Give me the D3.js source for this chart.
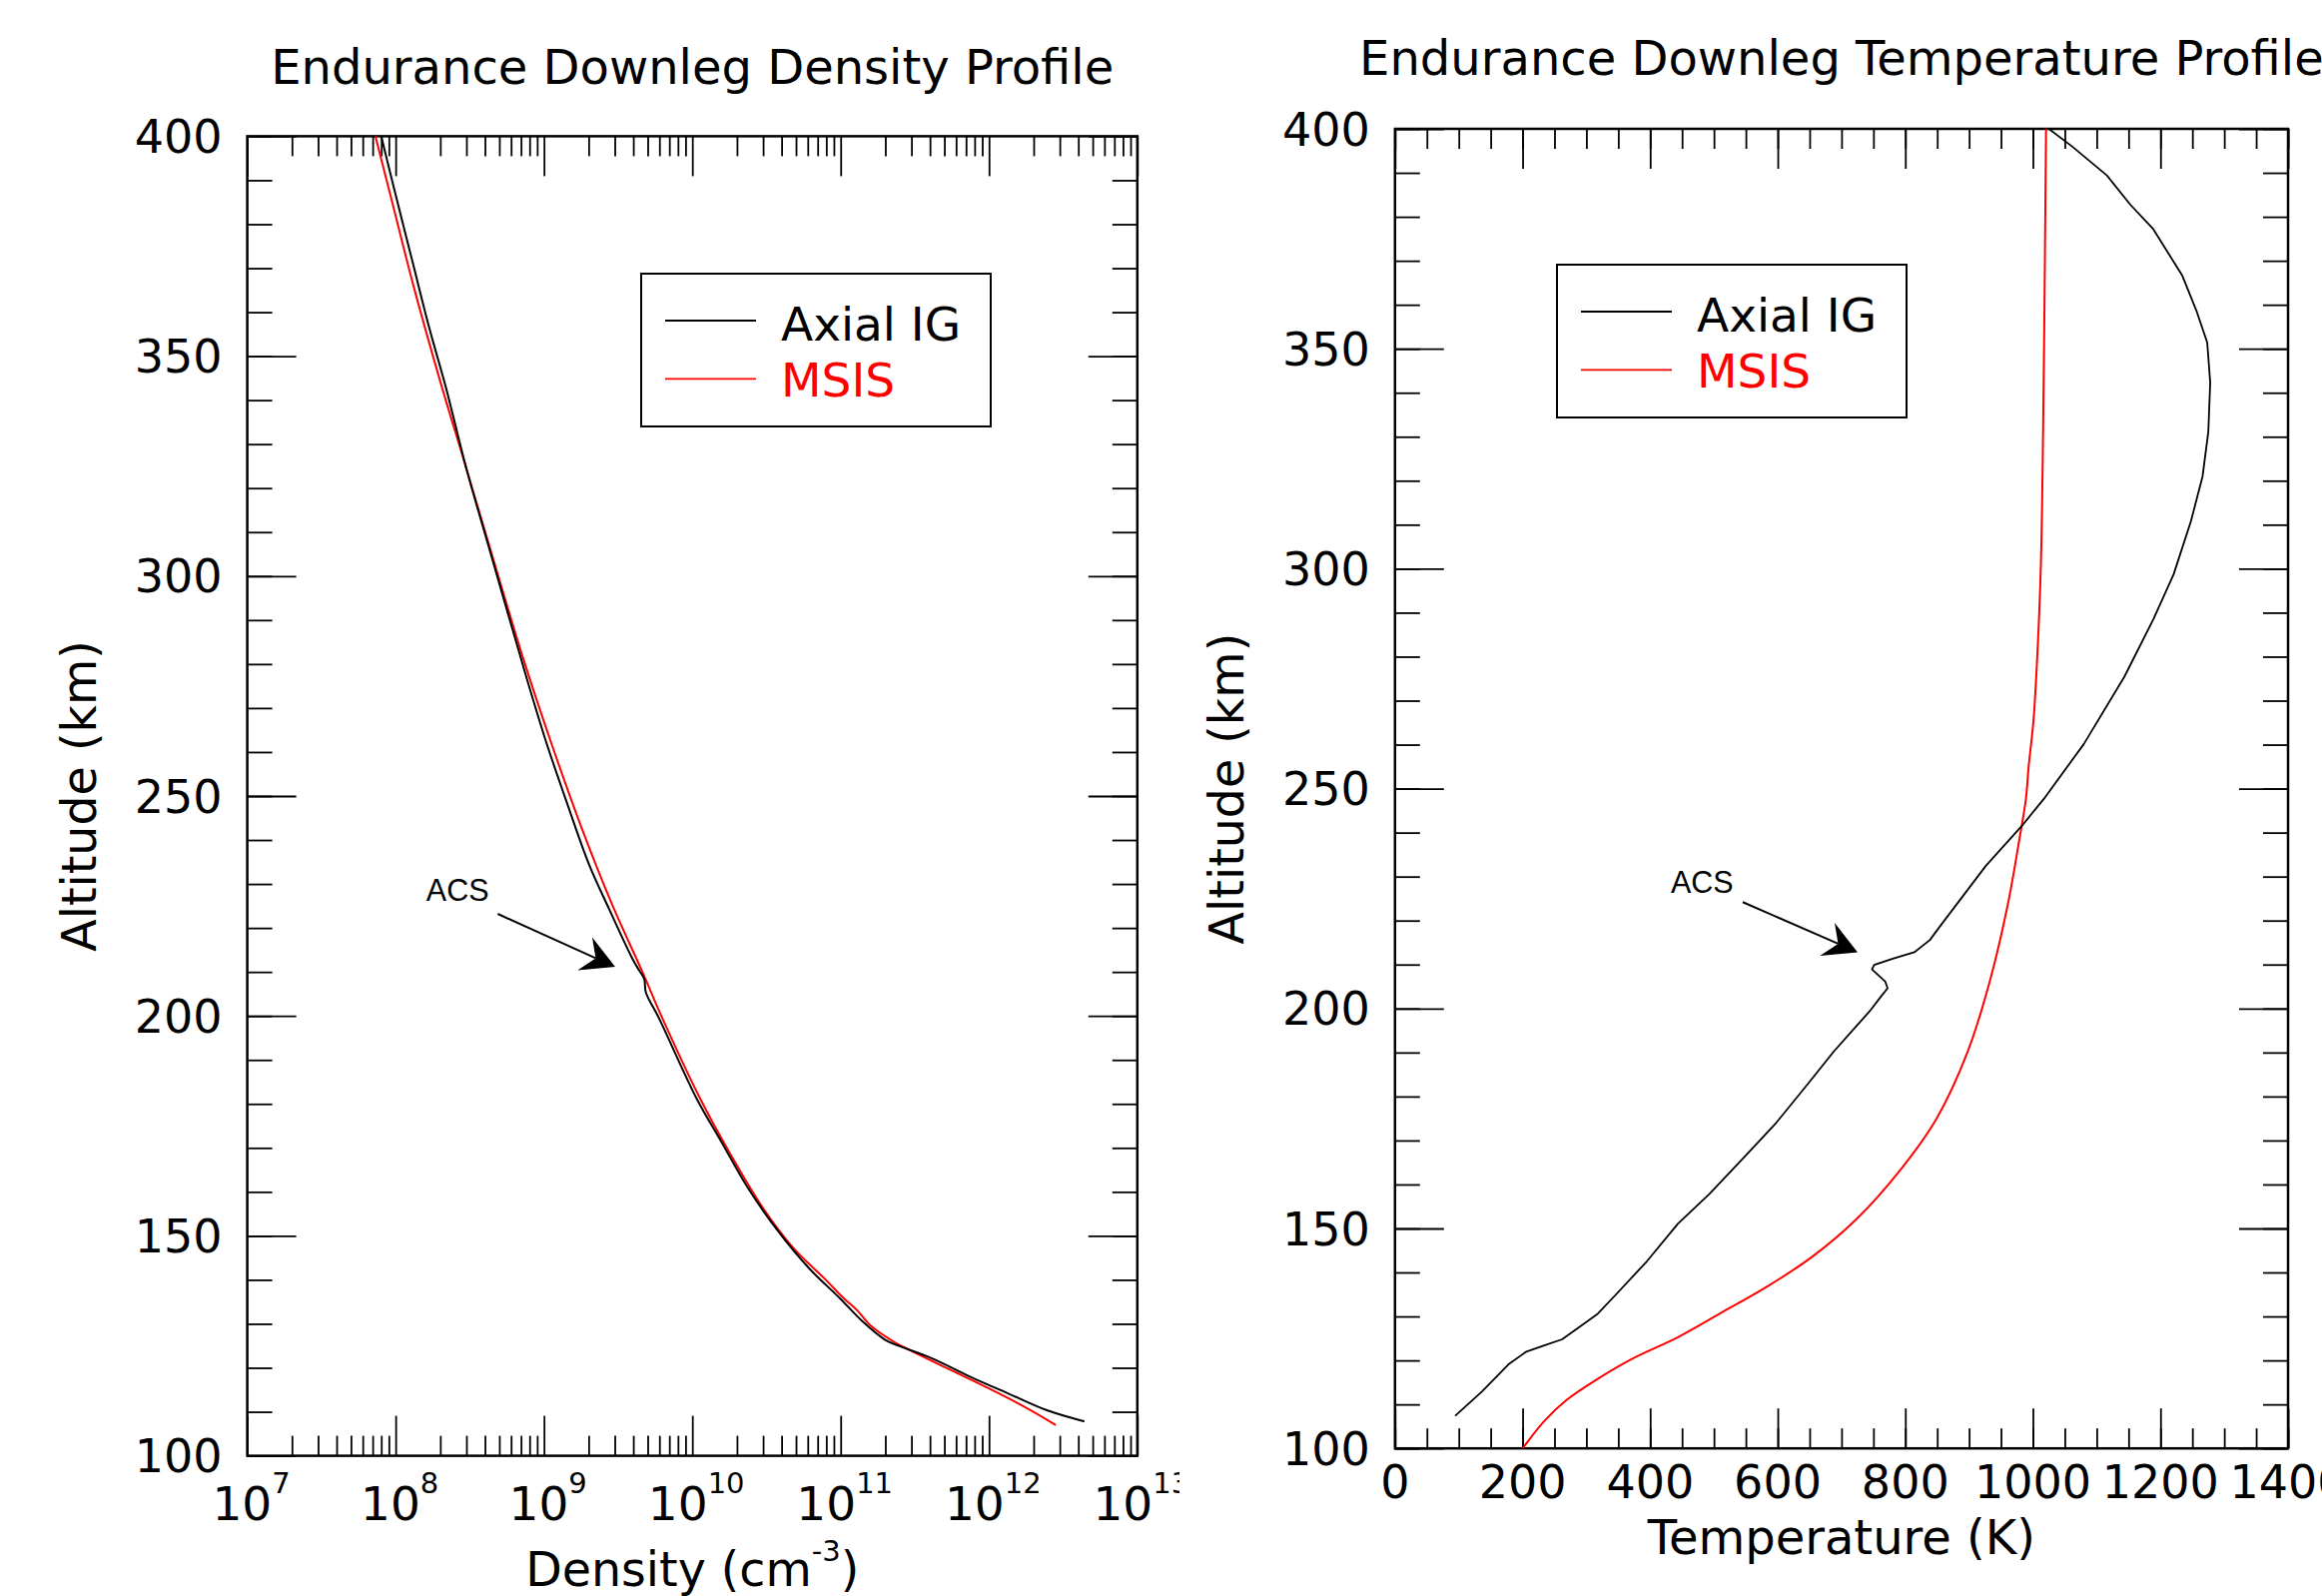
<!DOCTYPE html>
<html>
<head>
<meta charset="utf-8">
<script src="https://cdn.jsdelivr.net/npm/d3@7"></script>
<style>
body { margin: 0; background: #fff; }
text { font-family: "DejaVu Sans", sans-serif; }
</style>
</head>
<body>
<script>
var width = 2325,
    height = 1598;

// density profile, altitude (km) / density (cm^-3)
var denAltAxial = [400, 387.9, 371, 356.3, 342.7, 324.6, 308.8, 293, 277.3, 262.5, 249, 234.3,
    224.3, 213, 210.3, 208.4, 205.4, 199.4, 181.2, 171.4, 160.8, 150.9, 142.6, 135.8, 130.5, 126.3,
    124.8, 122.2, 118, 114.2, 110.4, 107.8];
var denAxial = [8.0e7, 9.8e7, 1.31e8, 1.69e8, 2.19e8, 2.99e8, 4.07e8, 5.55e8, 7.57e8, 1.03e9, 1.41e9, 2.02e9,
    2.75e9, 3.95e9, 4.39e9, 4.74e9, 4.86e9, 5.98e9, 1.07e10, 1.57e10, 2.38e10, 3.82e10, 6.14e10, 9.89e10, 1.41e11, 2.01e11,
    2.55e11, 4.10e11, 7.43e11, 1.34e12, 2.43e12, 4.40e12];

var denAltMsis = [400, 384.5, 366.4, 345, 324.6, 304.3, 281.7, 261.3, 242.2, 225.1, 210, 199.4, 181.2,
    169.1, 156.2, 147.1, 140.3, 135.8, 133.1, 129.7, 126, 123.3, 119.5, 115.3, 110.8, 107];
var denMsis = [7.31e7, 9.57e7, 1.31e8, 1.97e8, 2.99e8, 4.51e8, 7.18e8, 1.14e9, 1.82e9, 2.90e9, 4.61e9, 6.30e9, 1.13e10,
    1.77e10, 3.01e10, 4.84e10, 7.78e10, 1.05e11, 1.29e11, 1.58e11, 2.26e11, 3.24e11, 5.51e11, 9.98e11, 1.81e12, 2.82e12];

// temperature profile, altitude (km) / temperature (K)
var tmpAltAxial = [400, 396, 389.4, 382.8, 377.2, 366.6, 358.4, 351.4, 342.3, 331.1, 321, 310.8, 298.7, 288.5,
    275.4, 260.1, 247.6, 241.4, 232.4, 219, 215.6, 212.8, 211.3, 209.9, 208.9, 206.1, 204.6, 202.7, 199.4, 196,
    190.3, 182.7, 174, 166.4, 157.8, 151.1, 142.5, 134.9, 130.6, 127.7, 124.8, 123.4, 122, 119.1, 112.9, 107.4];
var tmpAxial = [1025, 1061.5, 1116, 1152.5, 1188.8, 1234.3, 1257, 1273.3, 1278, 1275, 1266, 1247.8, 1220.6, 1188.8,
    1143.3, 1079.7, 1016.9, 982, 926, 856, 838.6, 814.1, 779.2, 751.2, 747.8, 768.7, 772.2, 761.7, 744.2, 723.3,
    688.3, 646.3, 597.5, 548.5, 492.6, 443.7, 394.7, 345.9, 317.8, 290, 262, 234, 206, 178, 136.2, 94.3];

var tmpAltMsis = [400, 371.6, 331.1, 300.7, 280.4, 265.2, 255.1, 247.6, 238.1, 223.8, 206.5, 190.3, 175, 163.5,
    152.1, 143.5, 136.8, 131, 125.3, 120.5, 115.8, 111, 106.2, 100.5, 100];
var tmpMsis = [1020.6, 1018.9, 1016, 1012.5, 1007, 1000.8, 993.4, 989, 978.4, 960.9, 933, 898, 849, 793.2,
    723.3, 653.4, 583.5, 513.5, 443.7, 373.7, 317.8, 268.9, 234, 202.6, 200];

var altTicks = [100, 150, 200, 250, 300, 350, 400];
var altMinor = d3.range(100, 401, 10);
var densityTicks = [1e7, 1e8, 1e9, 1e10, 1e11, 1e12, 1e13];
var tempTicks = [0, 200, 400, 600, 800, 1000, 1200, 1400];
var tempMinor = d3.range(0, 1401, 50);

var seriesNames = ["Axial IG", "MSIS"];
var seriesColors = ["black", "red"];

// ACS arrows, in data units: label position, arrow start, arrow tip
var acsDensity = { label: [1.61e8, 226.2], from: [4.88e8, 223.2], to: [3.02e9, 211.2] };
var acsTemp = { label: [432.4, 226.3], from: [545.2, 224.2], to: [725.2, 212.8] };


var left = { x0: 247.6, x1: 1138.8, y0: 136.4, y1: 1457.6 };
var right = { x0: 1396.8, x1: 2291, y0: 129, y1: 1450.2 };

var xDen = d3.scaleLog().domain([1e7, 1e13]).range([left.x0, left.x1]);
var yDen = d3.scaleLinear().domain([100, 400]).range([left.y1, left.y0]);
var xTmp = d3.scaleLinear().domain([0, 1400]).range([right.x0, right.x1]);
var yTmp = d3.scaleLinear().domain([100, 400]).range([right.y1, right.y0]);

var densityMinor = [];
densityTicks.slice(0, -1).forEach(function(d) {
    for (var k = 2; k < 10; k++) densityMinor.push(d * k);
});

var svg = d3.select("body").append("svg")
    .attr("width", width)
    .attr("height", height);

svg.append("rect").attr("width", width).attr("height", height).attr("fill", "white");

svg.append("clipPath").attr("id", "clipLeft")
    .append("rect").attr("x", 0).attr("y", 0).attr("width", 1181).attr("height", height);

var gL = svg.append("g").attr("clip-path", "url(#clipLeft)");
var gR = svg.append("g");

function tickMarks(g, axis, values, size) {
    g.call(axis.tickValues(values).tickSize(-size).tickSizeOuter(0).tickFormat(""));
    g.select(".domain").remove();
    g.selectAll(".tick line").attr("stroke-width", 1.8);
}

function frame(g, p, xScale, yScale, xMajor, xMinor) {
    var w = p.x1 - p.x0,
        h = p.y1 - p.y0;
    g.append("g").attr("transform", "translate(0," + p.y1 + ")").call(tickMarks, d3.axisBottom(xScale), xMajor, 40);
    g.append("g").attr("transform", "translate(0," + p.y1 + ")").call(tickMarks, d3.axisBottom(xScale), xMinor, 20);
    g.append("g").attr("transform", "translate(0," + p.y0 + ")").call(tickMarks, d3.axisTop(xScale), xMajor, 40);
    g.append("g").attr("transform", "translate(0," + p.y0 + ")").call(tickMarks, d3.axisTop(xScale), xMinor, 20);
    g.append("g").attr("transform", "translate(" + p.x0 + ",0)").call(tickMarks, d3.axisLeft(yScale), altMinor, 25);
    g.append("g").attr("transform", "translate(" + p.x1 + ",0)").call(tickMarks, d3.axisRight(yScale), altMinor, 25);
    g.append("g").attr("transform", "translate(" + p.x0 + ",0)").call(tickMarks, d3.axisLeft(yScale), altTicks, 49);
    g.append("g").attr("transform", "translate(" + p.x1 + ",0)").call(tickMarks, d3.axisRight(yScale), altTicks, 49);

    // altitude labels
    g.append("g").selectAll("text")
        .data(altTicks)
        .enter().append("text")
        .attr("x", p.x0 - 25)
        .attr("y", function(d) { return yScale(d) + 16.5; })
        .attr("text-anchor", "end")
        .attr("font-size", 46)
        .text(function(d) { return d; });

    g.append("rect")
        .attr("x", p.x0).attr("y", p.y0)
        .attr("width", w).attr("height", h)
        .attr("fill", "none")
        .attr("stroke", "black")
        .attr("stroke-width", 2.5);

    g.append("text")
        .attr("transform", "translate(" + (p.x0 - 152) + "," + ((p.y0 + p.y1) / 2) + ") rotate(-90)")
        .attr("text-anchor", "middle")
        .attr("font-size", 47.5)
        .text("Altitude (km)");
}

function legend(g, bx, by) {
    g.append("rect")
        .attr("x", bx).attr("y", by)
        .attr("width", 350).attr("height", 153)
        .attr("fill", "white")
        .attr("stroke", "black")
        .attr("stroke-width", 2);
    seriesNames.forEach(function(name, i) {
        g.append("line")
            .attr("x1", bx + 24).attr("x2", bx + 115)
            .attr("y1", by + 47 + i * 58.3).attr("y2", by + 47 + i * 58.3)
            .attr("stroke", seriesColors[i])
            .attr("stroke-width", 1.8);
        g.append("text")
            .attr("x", bx + 140)
            .attr("y", by + 66.7 + i * 56.6)
            .attr("font-size", 47)
            .attr("fill", seriesColors[i])
            .text(name);
    });
}

function acs(g, a, xScale, yScale) {
    var tx = xScale(a.to[0]),
        ty = yScale(a.to[1]);
    g.append("text")
        .attr("x", xScale(a.label[0]))
        .attr("y", yScale(a.label[1]))
        .style("font-family", "'Liberation Sans', Arial, sans-serif")
        .attr("font-size", 30.5)
        .text("ACS");
    g.append("line")
        .attr("x1", xScale(a.from[0])).attr("y1", yScale(a.from[1]))
        .attr("x2", tx - 19.5).attr("y2", ty - 8.5)
        .attr("stroke", "black")
        .attr("stroke-width", 2);
    g.append("path")
        .attr("d", "M" + tx + "," + ty +
            "L" + (tx - 23) + "," + (ty - 29.4) +
            "L" + (tx - 19.5) + "," + (ty - 8.5) +
            "L" + (tx - 37.7) + "," + (ty + 3.6) + "Z")
        .attr("fill", "black");
}

// ---- left: density ----
frame(gL, left, xDen, yDen, densityTicks, densityMinor);

gL.append("g").selectAll("text")
    .data(densityTicks)
    .enter().append("text")
    .attr("x", function(d) { return xDen(d) + 4; })
    .attr("y", left.y1 + 64.5)
    .attr("text-anchor", "middle")
    .attr("font-size", 47)
    .each(function(d) {
        var t = d3.select(this);
        t.append("tspan").text("10");
        t.append("tspan").attr("dy", -27).attr("font-size", 29).text(Math.round(Math.log10(d)));
    });

var denLine = d3.line()
    .x(function(d) { return xDen(d[0]); })
    .y(function(d) { return yDen(d[1]); })
    .curve(d3.curveCatmullRom);

gL.append("path")
    .datum(denMsis.map(function(v, i) { return [v, denAltMsis[i]]; }))
    .attr("d", denLine)
    .attr("fill", "none")
    .attr("stroke", "red")
    .attr("stroke-width", 2);

gL.append("path")
    .datum(denAxial.map(function(v, i) { return [v, denAltAxial[i]]; }))
    .attr("d", denLine)
    .attr("fill", "none")
    .attr("stroke", "black")
    .attr("stroke-width", 2);

legend(gL, 642, 274);
acs(gL, acsDensity, xDen, yDen);

gL.append("text")
    .attr("x", (left.x0 + left.x1) / 2)
    .attr("y", 84)
    .attr("text-anchor", "middle")
    .attr("font-size", 48)
    .text("Endurance Downleg Density Profile");

var xt = gL.append("text")
    .attr("x", (left.x0 + left.x1) / 2)
    .attr("y", 1588)
    .attr("text-anchor", "middle")
    .attr("font-size", 47.5);
xt.append("tspan").text("Density (cm");
xt.append("tspan").attr("dy", -25).attr("font-size", 29).text("-3");
xt.append("tspan").attr("dy", 25).text(")");

// ---- right: temperature ----
frame(gR, right, xTmp, yTmp, tempTicks, tempMinor);

gR.append("g").selectAll("text")
    .data(tempTicks)
    .enter().append("text")
    .attr("x", function(d) { return xTmp(d); })
    .attr("y", right.y1 + 50)
    .attr("text-anchor", "middle")
    .attr("font-size", 46)
    .text(function(d) { return d; });

var tmpLine = d3.line()
    .x(function(d) { return xTmp(d[0]); })
    .y(function(d) { return yTmp(d[1]); });

gR.append("path")
    .datum(tmpMsis.map(function(v, i) { return [v, tmpAltMsis[i]]; }))
    .attr("d", tmpLine.curve(d3.curveCatmullRom))
    .attr("fill", "none")
    .attr("stroke", "red")
    .attr("stroke-width", 2);

gR.append("path")
    .datum(tmpAxial.map(function(v, i) { return [v, tmpAltAxial[i]]; }))
    .attr("d", tmpLine.curve(d3.curveLinear))
    .attr("fill", "none")
    .attr("stroke", "black")
    .attr("stroke-width", 1.8)
    .attr("stroke-linejoin", "round");

legend(gR, 1559, 265);
acs(gR, acsTemp, xTmp, yTmp);

gR.append("text")
    .attr("x", (right.x0 + right.x1) / 2)
    .attr("y", 75)
    .attr("text-anchor", "middle")
    .attr("font-size", 48)
    .text("Endurance Downleg Temperature Profile");

gR.append("text")
    .attr("x", (right.x0 + right.x1) / 2)
    .attr("y", 1556)
    .attr("text-anchor", "middle")
    .attr("font-size", 48)
    .text("Temperature (K)");
</script>
</body>
</html>
